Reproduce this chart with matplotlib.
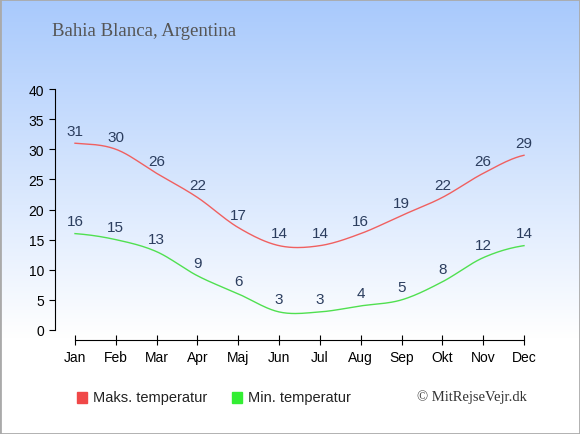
import numpy as np
import matplotlib
matplotlib.use("Agg")
import matplotlib.pyplot as plt
from matplotlib.patches import Rectangle

plt.rcParams['font.family'] = ['Liberation Sans', 'DejaVu Sans']

months = ["Jan", "Feb", "Mar", "Apr", "Maj", "Jun", "Jul", "Aug", "Sep", "Okt", "Nov", "Dec"]
max_temp = [31, 30, 26, 22, 17, 14, 14, 16, 19, 22, 26, 29]
min_temp = [16, 15, 13, 9, 6, 3, 3, 4, 5, 8, 12, 14]
yticks = [0, 5, 10, 15, 20, 25, 30, 35, 40]


def smooth(vals, n=20):
    # catmull-rom through the points
    p = np.array(vals, dtype=float)
    p = np.concatenate([[p[0]], p, [p[-1]]])
    xs, ys = [], []
    for i in range(1, len(p) - 2):
        t = np.linspace(0, 1, n, endpoint=False)
        p0, p1, p2, p3 = p[i - 1], p[i], p[i + 1], p[i + 2]
        y = 0.5 * (2 * p1 + (-p0 + p2) * t + (2 * p0 - 5 * p1 + 4 * p2 - p3) * t ** 2
                   + (-p0 + 3 * p1 - 3 * p2 + p3) * t ** 3)
        xs.extend(i - 1 + t)
        ys.extend(y)
    xs.append(len(vals) - 1)
    ys.append(vals[-1])
    return np.array(xs), np.array(ys)


W, H = 580, 435
fig = plt.figure(figsize=(W / 100, H / 100), dpi=100)

# background gradient
bg = fig.add_axes([0, 0, 1, 1])
grad = np.linspace(0, 1, 256).reshape(-1, 1)
top = np.array([0.66, 0.79, 0.99])
img = np.ones((256, 1, 3))
frac = np.clip(grad / 0.78, 0, 1)
img[:, 0, :] = top + (1 - top) * frac
bg.imshow(img, aspect="auto", extent=[0, 1, 0, 1], origin="upper")
bg.add_patch(Rectangle((0, 0), 1, 1, fill=False, edgecolor="#aaaaaa", lw=2, transform=bg.transAxes))
bg.set_axis_off()

# axes: x from 55px to 530px, y from 341px (bottom) to 90px (top)
left, right = 55, 530
bottom, topy = 341, 90
ax = fig.add_axes([left / W, 1 - bottom / H, (right - left) / W, (bottom - topy) / H])
ax.patch.set_alpha(0)
px_per_month = (524 - 75) / 11
x0 = -(75 - left) / px_per_month
x1 = 11 + (right - 524) / px_per_month
ax.set_xlim(x0, x1)
px_per_deg = (331 - 90) / 40
ax.set_ylim(-(bottom - 331) / px_per_deg, 40)

for s in ["top", "right"]:
    ax.spines[s].set_visible(False)
ax.spines["left"].set_bounds(0, 40)
ax.spines["bottom"].set_bounds(0, 11)
ax.set_yticks(yticks)
ax.set_xticks(range(12))
ax.set_xticklabels(months)
ax.tick_params(axis="y", direction="out", length=4, labelsize=10, pad=4)
ax.tick_params(axis="x", direction="inout", length=7, labelsize=10, pad=4)

xs, ys = smooth(max_temp)
ax.plot(xs, ys, color="#f06060", lw=1)
xs, ys = smooth(min_temp)
ax.plot(xs, ys, color="#50e050", lw=1)

for i, v in enumerate(max_temp):
    ax.annotate(str(v), (i, v), xytext=(0, 4), textcoords="offset points",
                ha="center", va="bottom", fontsize=11, color="#2b3d5e")
for i, v in enumerate(min_temp):
    ax.annotate(str(v), (i, v), xytext=(0, 4), textcoords="offset points",
                ha="center", va="bottom", fontsize=11, color="#2b3d5e")

fig.text(52 / W, 1 - 32 / H, "Bahia Blanca, Argentina", fontsize=13.5, family="Liberation Serif",
         color="#555555", ha="left", va="center")

# legend
fig.patches.append(Rectangle((77 / W, 1 - 404 / H), 10 / W, 11 / H, color="#f04848",
                             transform=fig.transFigure))
fig.text(93 / W, 1 - 398 / H, "Maks. temperatur", fontsize=10.5, color="#222222", va="center")
fig.patches.append(Rectangle((232 / W, 1 - 404 / H), 10 / W, 11 / H, color="#33ee33",
                             transform=fig.transFigure))
fig.text(248 / W, 1 - 398 / H, "Min. temperatur", fontsize=10.5, color="#222222", va="center")
fig.text(527 / W, 1 - 397 / H, "\u00a9 MitRejseVejr.dk", fontsize=10.5, family="Liberation Serif",
         color="#333333", ha="right", va="center")

fig.savefig("out.png", dpi=100)
